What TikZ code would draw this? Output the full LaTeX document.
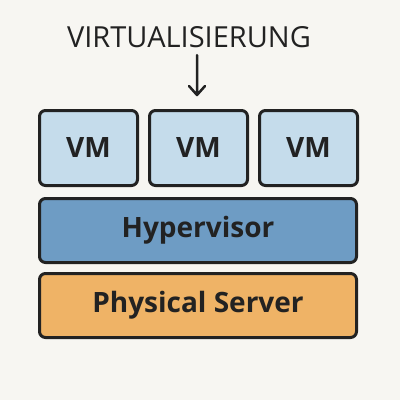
\documentclass[tikz,border=0pt]{standalone}
\usepackage{fontspec}
\setmainfont{Open Sans}
\definecolor{bg}{HTML}{F7F6F2}
\definecolor{vmfill}{HTML}{C5DCEB}
\definecolor{hypfill}{HTML}{6E9CC4}
\definecolor{physfill}{HTML}{EFB366}
\definecolor{ink}{HTML}{222222}
\begin{document}
\begin{tikzpicture}[x=1pt,y=-1pt,
  layerbox/.style={draw=ink,line width=3pt,rounded corners=6pt,inner sep=0pt,anchor=north west,text=ink,font=\bfseries\fontsize{28}{32}\selectfont},
  vmbox/.style={layerbox,fill=vmfill,minimum width=98pt,minimum height=75pt},
  widebox/.style={layerbox,minimum width=317pt,minimum height=64pt}]
\fill[bg] (0,0) rectangle (400,400);
\useasboundingbox (0,0) rectangle (400,400);
\node[text=ink,font=\fontsize{29}{32}\selectfont] (title) at (189,37) {VIRTUALISIERUNG};
\node[vmbox] (vm1) at (38,109) {VM};
\node[vmbox] (vm2) at (148,109) {VM};
\node[vmbox] (vm3) at (258,109) {VM};
\node[widebox,fill=hypfill] (hyp) at (38,197) {Hypervisor};
\node[widebox,fill=physfill] (phys) at (38,272) {Physical Server};
\coordinate (atop) at (197,55);
\coordinate (abot) at (197,95);
\draw[ink,line width=2.5pt,line cap=round,line join=round] (atop) -- (abot) (189,86) -- (abot) -- (205,86);
\end{tikzpicture}
\end{document}
